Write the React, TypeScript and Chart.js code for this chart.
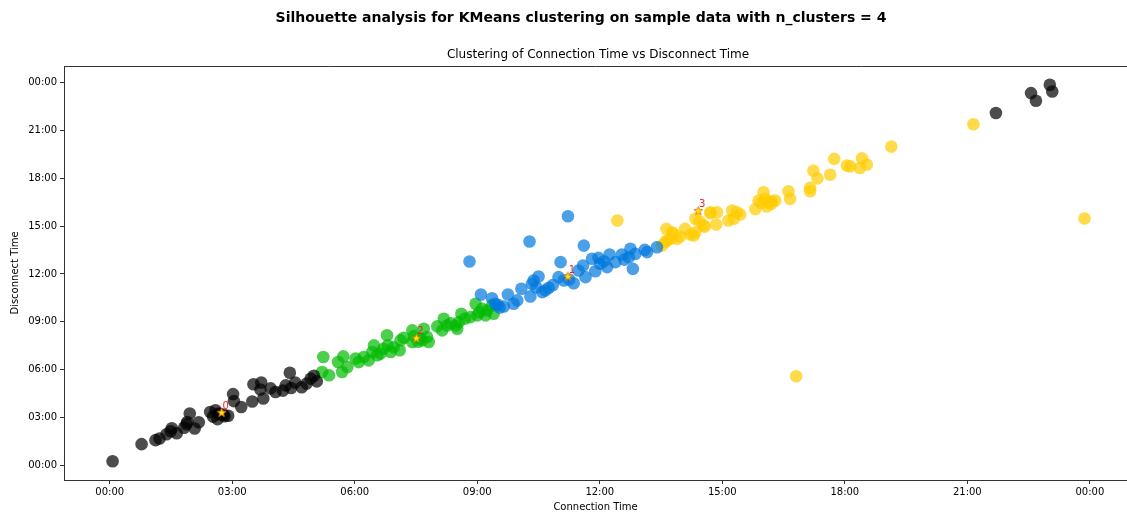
import { useEffect, useRef } from "react";
import { Chart, registerables } from "chart.js";

Chart.register(...registerables);

const FONT = "'DejaVu Sans', sans-serif";

// Hours of day (decimal) – x: connection, y: disconnect
const cluster0X = [0.07, 0.78, 1.12, 1.22, 1.39, 1.49, 1.64, 1.82, 1.88, 1.96, 2.08, 2.18, 2.46, 2.53, 2.64, 2.9, 3.02, 3.04, 3.22, 3.49, 3.52, 3.71, 3.69, 3.76, 3.94, 4.06, 4.24, 4.41, 4.44, 4.54, 4.7, 4.82, 4.92, 5.0, 5.07, 1.52, 2.69, 2.81, 2.59, 4.31, 2.67, 2.78, 1.9, 21.7, 22.56, 22.68, 23.02, 23.08];
const cluster0Y = [0.25, 1.32, 1.57, 1.67, 1.94, 2.13, 2.0, 2.35, 2.57, 3.24, 2.3, 2.69, 3.34, 3.05, 2.89, 3.1, 4.46, 4.02, 3.65, 4.0, 5.08, 5.19, 4.75, 4.18, 4.82, 4.59, 4.68, 5.8, 4.84, 5.19, 4.89, 5.12, 5.43, 5.61, 5.26, 2.32, 3.2, 3.07, 3.45, 5.01, 3.24, 3.18, 2.71, 22.1, 23.35, 22.87, 23.87, 23.45];

const cluster1X = [11.22, 10.28, 8.81, 11.61, 11.04, 12.81, 9.09, 9.36, 9.75, 10.08, 10.5, 10.38, 10.34, 10.67, 10.59, 10.75, 10.3, 9.98, 9.89, 9.65, 9.44, 10.99, 11.12, 11.36, 11.48, 11.65, 11.59, 11.81, 11.97, 11.89, 12.01, 12.18, 12.24, 12.38, 12.54, 12.75, 12.71, 12.87, 13.1, 13.16, 13.4, 9.5, 9.55, 10.45, 10.85, 11.25, 12.1, 12.6];
const cluster1Y = [15.62, 14.04, 12.78, 13.78, 12.74, 12.32, 10.71, 10.48, 10.71, 11.07, 11.84, 11.59, 11.38, 10.97, 10.86, 11.13, 10.59, 10.34, 10.13, 9.96, 10.13, 11.8, 11.59, 11.42, 12.22, 11.8, 12.53, 12.95, 13.01, 12.17, 12.64, 12.43, 13.22, 12.74, 13.22, 13.58, 13.05, 13.26, 13.51, 13.37, 13.68, 10.05, 9.9, 11.15, 11.3, 11.65, 12.8, 12.9];

const cluster2X = [5.23, 5.2, 5.37, 5.59, 5.72, 5.69, 5.82, 6.02, 6.1, 6.22, 6.34, 6.47, 6.43, 6.63, 6.79, 6.81, 6.88, 7.12, 7.1, 7.2, 7.41, 7.41, 7.69, 7.65, 7.77, 7.81, 8.02, 8.18, 8.14, 8.26, 8.47, 8.51, 8.61, 8.55, 8.83, 8.96, 9.0, 9.12, 9.24, 9.36, 9.4, 9.2, 7.55, 7.45, 7.6, 6.95, 6.55, 6.7, 8.35, 8.7, 9.05];
const cluster2Y = [6.79, 5.85, 5.64, 6.47, 6.83, 5.85, 6.16, 6.69, 6.47, 6.79, 6.58, 7.52, 7.1, 7.0, 8.15, 7.52, 7.1, 7.83, 7.21, 8.0, 8.46, 7.73, 8.56, 7.83, 8.04, 7.73, 8.71, 9.19, 8.46, 8.77, 8.77, 8.56, 9.5, 8.98, 9.29, 10.13, 9.4, 9.82, 9.71, 10.03, 9.5, 9.4, 7.75, 8.1, 7.95, 7.4, 6.9, 7.3, 8.9, 9.2, 9.6];

const cluster3X = [12.43, 16.81, 23.87, 21.15, 19.14, 18.42, 18.37, 18.54, 18.13, 17.74, 18.05, 17.23, 17.33, 17.64, 17.15, 17.15, 16.62, 16.66, 16.01, 15.89, 16.05, 16.13, 16.21, 16.3, 16.09, 15.81, 15.36, 15.24, 15.44, 15.15, 15.28, 14.85, 14.87, 14.71, 14.57, 14.44, 14.34, 14.34, 14.22, 14.09, 14.3, 13.97, 13.81, 13.63, 13.73, 13.89, 13.6, 13.52, 13.65, 13.77, 14.54, 14.71, 16.2, 15.95];
const cluster3Y = [15.35, 5.58, 15.48, 21.39, 19.99, 19.26, 18.65, 18.86, 18.75, 19.22, 18.8, 18.48, 18.0, 18.23, 17.4, 17.19, 17.19, 16.71, 17.13, 16.6, 16.71, 16.5, 16.56, 16.6, 16.23, 16.08, 15.87, 15.98, 15.73, 15.35, 15.46, 15.1, 15.87, 15.87, 14.97, 15.31, 15.46, 14.62, 14.47, 14.83, 14.41, 14.35, 14.52, 14.83, 14.2, 14.2, 13.99, 13.78, 14.1, 14.62, 15.04, 15.81, 16.4, 16.45];

const centerX = [2.74, 11.22, 7.51, 14.41];
const centerY = [3.32, 11.87, 7.99, 15.98];
const centerLabels = ["0", "1", "2", "3"];

const clusterColors = ["rgba(0,0,0,0.7)", "rgba(0,119,221,0.7)", "rgba(0,187,0,0.7)", "rgba(255,204,0,0.7)"];

const tickHours = [0, 3, 6, 9, 12, 15, 18, 21, 24];

const mainTitle = "Silhouette analysis for KMeans clustering on sample data with n_clusters = 4";
const subTitle = "Clustering of Connection Time vs Disconnect Time";
const xTitle = "Connection Time";
const yTitle = "Disconnect Time";

function fmtHour(v: number): string {
  const h = ((Math.round(v) % 24) + 24) % 24;
  return (h < 10 ? "0" : "") + h + ":00";
}

function zip(xs: number[], ys: number[]) {
  return xs.map((x, i) => ({ x, y: ys[i] }));
}

function makeStar(): HTMLCanvasElement {
  const c = document.createElement("canvas");
  c.width = 11;
  c.height = 11;
  const g = c.getContext("2d")!;
  g.beginPath();
  for (let i = 0; i < 10; i++) {
    const r = i % 2 === 0 ? 4.6 : 2.0;
    const a = -Math.PI / 2 + (i * Math.PI) / 5;
    g.lineTo(5.5 + r * Math.cos(a), 6 + r * Math.sin(a));
  }
  g.closePath();
  g.fillStyle = "#ffee00";
  g.fill();
  g.strokeStyle = "#e8731a";
  g.lineWidth = 0.9;
  g.stroke();
  return c;
}

export default function App() {
  const ref = useRef<HTMLCanvasElement | null>(null);

  useEffect(() => {
    if (!ref.current) return;
    const star = makeStar();

    const overlay = {
      id: "overlay",
      afterDatasetsDraw(chart: any) {
        const ctx = chart.ctx;
        const xs = chart.scales.x;
        const ys = chart.scales.y;
        ctx.save();
        ctx.fillStyle = "#e8232b";
        ctx.font = `10px ${FONT}`;
        ctx.textAlign = "center";
        ctx.textBaseline = "middle";
        centerLabels.forEach((l, i) => {
          ctx.fillText(l, xs.getPixelForValue(centerX[i]) + 4, ys.getPixelForValue(centerY[i]) - 6);
        });
        ctx.restore();
      },
      afterDraw(chart: any) {
        const ctx = chart.ctx;
        const { left, right, top } = chart.chartArea;
        ctx.save();
        ctx.strokeStyle = "#333";
        ctx.lineWidth = 1;
        ctx.beginPath();
        ctx.moveTo(left, top + 0.5);
        ctx.lineTo(right, top + 0.5);
        ctx.stroke();
        ctx.fillStyle = "#000";
        ctx.textAlign = "center";
        ctx.textBaseline = "middle";
        ctx.font = `bold 14px ${FONT}`;
        ctx.fillText(mainTitle, 581, 18);
        ctx.font = `12px ${FONT}`;
        ctx.fillText(subTitle, 598, 55);
        ctx.restore();
      },
    };

    const clusters = [
      zip(cluster0X, cluster0Y),
      zip(cluster1X, cluster1Y),
      zip(cluster2X, cluster2Y),
      zip(cluster3X, cluster3Y),
    ];

    const chart = new Chart(ref.current, {
      type: "scatter",
      data: {
        datasets: [
          {
            label: "centers",
            data: zip(centerX, centerY),
            pointStyle: star as any,
            pointRadius: 5,
            order: 0,
          },
          ...clusters.map((d, i) => ({
            label: "cluster " + i,
            data: d,
            backgroundColor: clusterColors[i],
            borderWidth: 0,
            pointRadius: 6.3,
            pointHoverRadius: 6.3,
            order: 1,
          })),
        ],
      },
      options: {
        animation: false,
        responsive: false,
        maintainAspectRatio: false,
        devicePixelRatio: 1,
        events: [],
        layout: { autoPadding: false, padding: { top: 66, left: 0, right: 0, bottom: 0 } },
        plugins: { legend: { display: false }, tooltip: { enabled: false }, title: { display: false } },
        scales: {
          x: {
            type: "linear",
            min: -1.12,
            max: 24.91,
            afterFit: (s: any) => {
              s.height = 33;
              s.paddingRight = 0;
              s.paddingLeft = 0;
            },
            afterBuildTicks: (s: any) => {
              s.ticks = tickHours.map((v) => ({ value: v }));
            },
            ticks: {
              stepSize: 3,
              includeBounds: false,
              autoSkip: false,
              maxRotation: 0,
              padding: 2,
              color: "#000",
              font: { family: FONT, size: 10 },
              callback: (v: any) => fmtHour(Number(v)),
            },
            grid: { display: true, drawOnChartArea: false, drawTicks: true, tickLength: 4, color: "#333" },
            border: { display: true, color: "#333", width: 1 },
            title: { display: true, text: xTitle, color: "#000", font: { family: FONT, size: 10 }, padding: { top: 0, bottom: 0 } },
          },
          y: {
            type: "linear",
            min: -0.93,
            max: 25.05,
            afterFit: (s: any) => {
              s.width = 64;
            },
            afterBuildTicks: (s: any) => {
              s.ticks = tickHours.map((v) => ({ value: v }));
            },
            ticks: {
              stepSize: 3,
              includeBounds: false,
              autoSkip: false,
              padding: 3,
              color: "#000",
              font: { family: FONT, size: 10 },
              callback: (v: any) => fmtHour(Number(v)),
            },
            grid: { display: true, drawOnChartArea: false, drawTicks: true, tickLength: 4, color: "#333" },
            border: { display: true, color: "#333", width: 1 },
            title: { display: true, text: yTitle, color: "#000", font: { family: FONT, size: 10 }, padding: { top: 9, bottom: 0 } },
          },
        },
      },
      plugins: [overlay],
    });

    return () => chart.destroy();
  }, []);

  return (
    <div style={{ position: "fixed", left: 0, top: 0, width: 1127, height: 513, background: "#fff", overflow: "hidden" }}>
      <canvas ref={ref} width={1127} height={513} style={{ display: "block", width: 1127, height: 513 }} />
    </div>
  );
}
